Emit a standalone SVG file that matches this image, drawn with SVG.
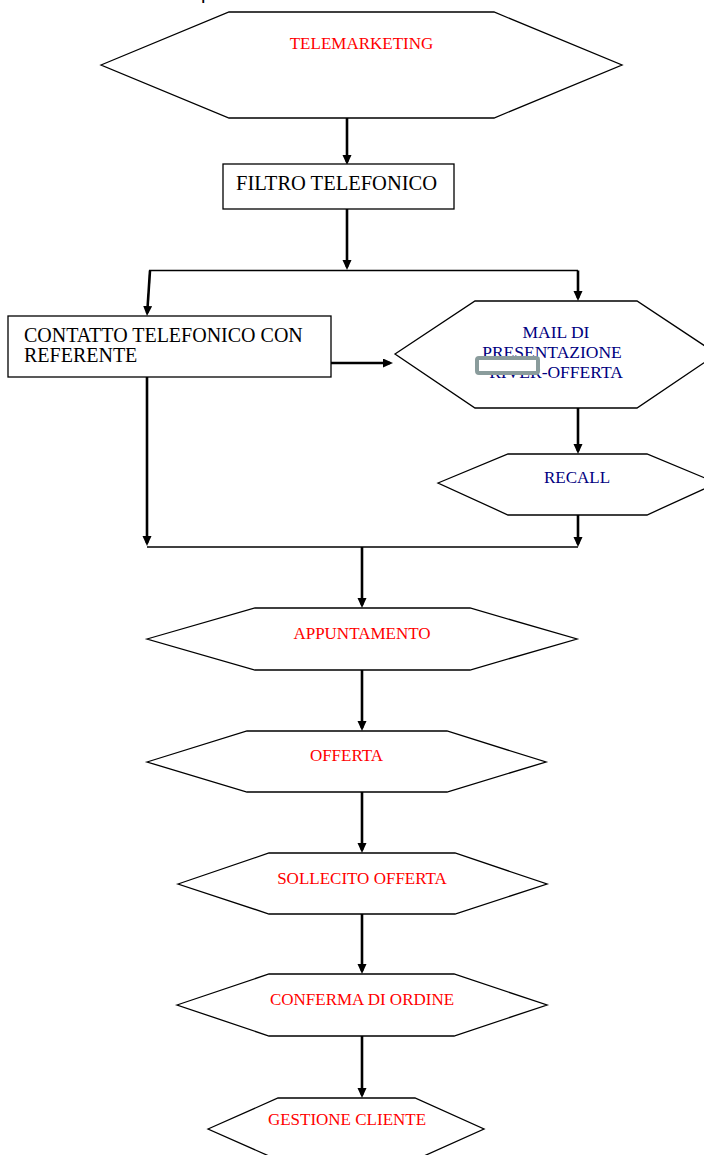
<svg xmlns="http://www.w3.org/2000/svg" width="704" height="1155" viewBox="0 0 704 1155">
<style>
.shape{fill:#fff;stroke:#000;stroke-width:1.3}
.lbl{font-family:"Liberation Serif","Times New Roman",serif;font-size:17px}
.red{fill:#ff0000}
.navy{fill:#000080}
.blk{fill:#000;font-family:"Liberation Serif","Times New Roman",serif;font-size:20px}
.thick{stroke:#000;stroke-width:2.6;fill:none;marker-end:url(#ah)}
.thin{stroke:#000;stroke-width:1.3;fill:none}
</style>
<defs>
<marker id="ah" markerUnits="userSpaceOnUse" markerWidth="10" markerHeight="10" refX="7" refY="4.5" orient="auto"><path d="M0,0 L10,4.5 L0,9 z" fill="#000"/></marker>
</defs>
<rect width="704" height="1155" fill="#fff"/>
<text x="201" y="-1" style="font-family:'Liberation Sans',Arial,sans-serif;font-size:20px" fill="#000">p</text>

<g id="connectors">
<line class="thick" x1="347" y1="118" x2="347" y2="162"/>
<line class="thick" x1="347" y1="209" x2="347" y2="267"/>
<line class="thin" x1="149" y1="270.5" x2="578" y2="270.5"/>
<line class="thick" x1="150" y1="270.5" x2="147.2" y2="313"/>
<line class="thick" x1="578" y1="270.5" x2="578" y2="298"/>
<line class="thick" x1="331" y1="363" x2="390" y2="363"/>
<line class="thick" x1="578" y1="408" x2="578" y2="451"/>
<line class="thick" x1="578" y1="515" x2="578" y2="544"/>
<line class="thick" x1="147" y1="377" x2="147" y2="543"/>
<line class="thin" x1="147" y1="547" x2="578" y2="547"/>
<line class="thick" x1="362" y1="547" x2="362" y2="605"/>
<line class="thick" x1="362" y1="670" x2="362" y2="728"/>
<line class="thick" x1="362" y1="792" x2="362" y2="850"/>
<line class="thick" x1="362" y1="914" x2="362" y2="971"/>
<line class="thick" x1="362" y1="1036" x2="362" y2="1095"/>
</g>

<g id="telemarketing">
<polygon class="shape" points="101,65 229,12 494,12 622,65 494,118 229,118"/>
<text class="lbl red" x="361.5" y="49" text-anchor="middle">TELEMARKETING</text>
</g>

<g id="filtro">
<rect class="shape" x="223" y="164" width="231" height="45"/>
<text class="blk" x="236" y="190" style="font-size:20.5px">FILTRO TELEFONICO</text>
</g>

<g id="contatto">
<rect class="shape" x="8" y="316" width="323" height="61"/>
<text class="blk" x="24" y="341.5">CONTATTO TELEFONICO CON</text>
<text class="blk" x="24" y="361.5">REFERENTE</text>
</g>

<g id="mail">
<polygon class="shape" points="395,354 475,301 637,301 717,354 637,408 475,408"/>
<text class="lbl navy" x="556" y="338" text-anchor="middle" style="font-size:17.5px">MAIL DI</text>
<text class="lbl navy" x="552" y="358" text-anchor="middle" style="font-size:17.5px">PRESENTAZIONE</text>
<text class="lbl navy" x="556" y="378" text-anchor="middle" style="font-size:17.5px">RIVER-OFFERTA</text>
<rect x="477" y="358" width="61" height="15" rx="2" fill="#fff" stroke="#8a9c9c" stroke-width="4"/>
</g>

<g id="recall">
<polygon class="shape" points="438,483 508,454 647,454 717,483 647,515 508,515"/>
<text class="lbl navy" x="577" y="483" text-anchor="middle">RECALL</text>
</g>

<g id="appuntamento">
<polygon class="shape" points="147,639 255,608 470,608 577,639 470,670 255,670"/>
<text class="lbl red" x="362" y="639" text-anchor="middle">APPUNTAMENTO</text>
</g>

<g id="offerta">
<polygon class="shape" points="147,762 247,731 447,731 546,762 447,792 247,792"/>
<text class="lbl red" x="346.5" y="761" text-anchor="middle">OFFERTA</text>
</g>

<g id="sollecito">
<polygon class="shape" points="178,884 269,853 455,853 547,884 455,914 269,914"/>
<text class="lbl red" x="362" y="883.5" text-anchor="middle">SOLLECITO OFFERTA</text>
</g>

<g id="conferma">
<polygon class="shape" points="177,1005 269,974 454,974 547,1005 454,1036 269,1036"/>
<text class="lbl red" x="362" y="1004.5" text-anchor="middle">CONFERMA DI ORDINE</text>
</g>

<g id="gestione">
<polygon class="shape" points="208,1129 278,1098 415,1098 484,1129 415,1160 278,1160"/>
<text class="lbl red" x="347" y="1124.5" text-anchor="middle">GESTIONE CLIENTE</text>
</g>
</svg>
